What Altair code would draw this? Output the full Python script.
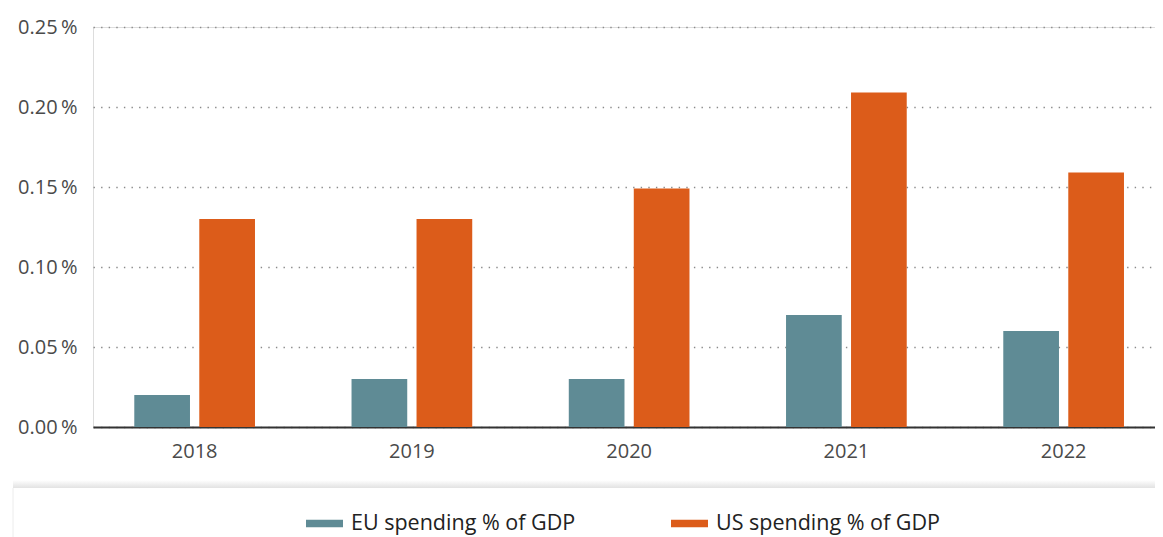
import altair as alt
import pandas as pd

years = ["2018", "2019", "2020", "2021", "2022"]
eu_values = [0.02, 0.03, 0.03, 0.07, 0.06]
us_values = [0.13, 0.13, 0.149, 0.209, 0.159]
series = ["EU spending % of GDP", "US spending % of GDP"]
colors = ["#5F8B95", "#DC5C1A"]
y_ticks = [0.0, 0.05, 0.10, 0.15, 0.20, 0.25]

rows = []
for i, yr in enumerate(years):
    rows.append({"year": yr, "series": series[0], "value": eu_values[i]})
    rows.append({"year": yr, "series": series[1], "value": us_values[i]})
df = pd.DataFrame(rows)

FONT = "Open Sans"
W, H = 1062, 400

bars = alt.Chart(df).mark_bar().encode(
    x=alt.X(
        "year:N",
        sort=years,
        scale=alt.Scale(paddingInner=0.4444, paddingOuter=0.1664, align=0.571),
        axis=alt.Axis(
            title=None, labelAngle=0, ticks=False, domain=True,
            domainColor="#333333", domainWidth=2,
            labelFont=FONT, labelFontSize=20, labelColor="#4a4a4a",
            labelPadding=14, grid=False,
        ),
    ),
    xOffset=alt.XOffset(
        "series:N", sort=series,
        scale=alt.Scale(paddingInner=0.143, paddingOuter=0),
    ),
    y=alt.Y(
        "value:Q",
        scale=alt.Scale(domain=[0, 0.25], nice=False),
        axis=alt.Axis(
            title=None, values=y_ticks, ticks=False, domain=False,
            labelExpr="format(datum.value, '.2f') + '\u2009%'",
            labelFont=FONT, labelFontSize=20, labelColor="#4a4a4a",
            labelPadding=16,
            grid=True, gridColor="#8a8a8a", gridWidth=1.4,
            gridDash=[1.4, 6.2],
        ),
    ),
    color=alt.Color(
        "series:N",
        scale=alt.Scale(domain=series, range=colors),
        legend=alt.Legend(
            title=None, orient="none", direction="horizontal",
            legendX=213, legendY=478,
            symbolType="M-1,-0.2H1V0.2H-1Z", symbolSize=1369,
            symbolStrokeWidth=0, symbolOpacity=1,
            labelFont=FONT, labelFontSize=21.5, labelColor="#222222",
            labelOffset=8, labelLimit=400, columnPadding=95,
            padding=0,
        ),
    ),
)

deco = pd.DataFrame({"k": [0]})
shadow_fill = {
    "gradient": "linear", "x1": 0, "y1": 0, "x2": 0, "y2": 1,
    "stops": [
        {"offset": 0, "color": "#ffffff"},
        {"offset": 1, "color": "#e2e2e2"},
    ],
}
shadow = alt.Chart(deco).mark_rect(color=shadow_fill).encode(
    x=alt.value(-80), x2=alt.value(W + 10),
    y=alt.value(453), y2=alt.value(461),
)
panel_edge = alt.Chart(deco).mark_rule(color="#ececec", strokeWidth=1).encode(
    x=alt.value(-80), y=alt.value(461), y2=alt.value(H + 130)
)

chart = (
    alt.layer(shadow, panel_edge, bars)
    .properties(
        width=W, height=H,
        autosize=alt.AutoSizeParams(type="none"),
        padding={"left": 85, "top": 19, "right": 0, "bottom": 110},
    )
    .configure_view(strokeWidth=0, stroke="transparent")
    .configure_axis(gridColor="transparent", domainColor="transparent",
                    tickColor="transparent")
    .configure_axisY(domain=False)
    .configure_axisX(grid=False)
    .configure(background="white")
)

chart.save("out.html", embed_options={"renderer": "svg", "actions": False})
